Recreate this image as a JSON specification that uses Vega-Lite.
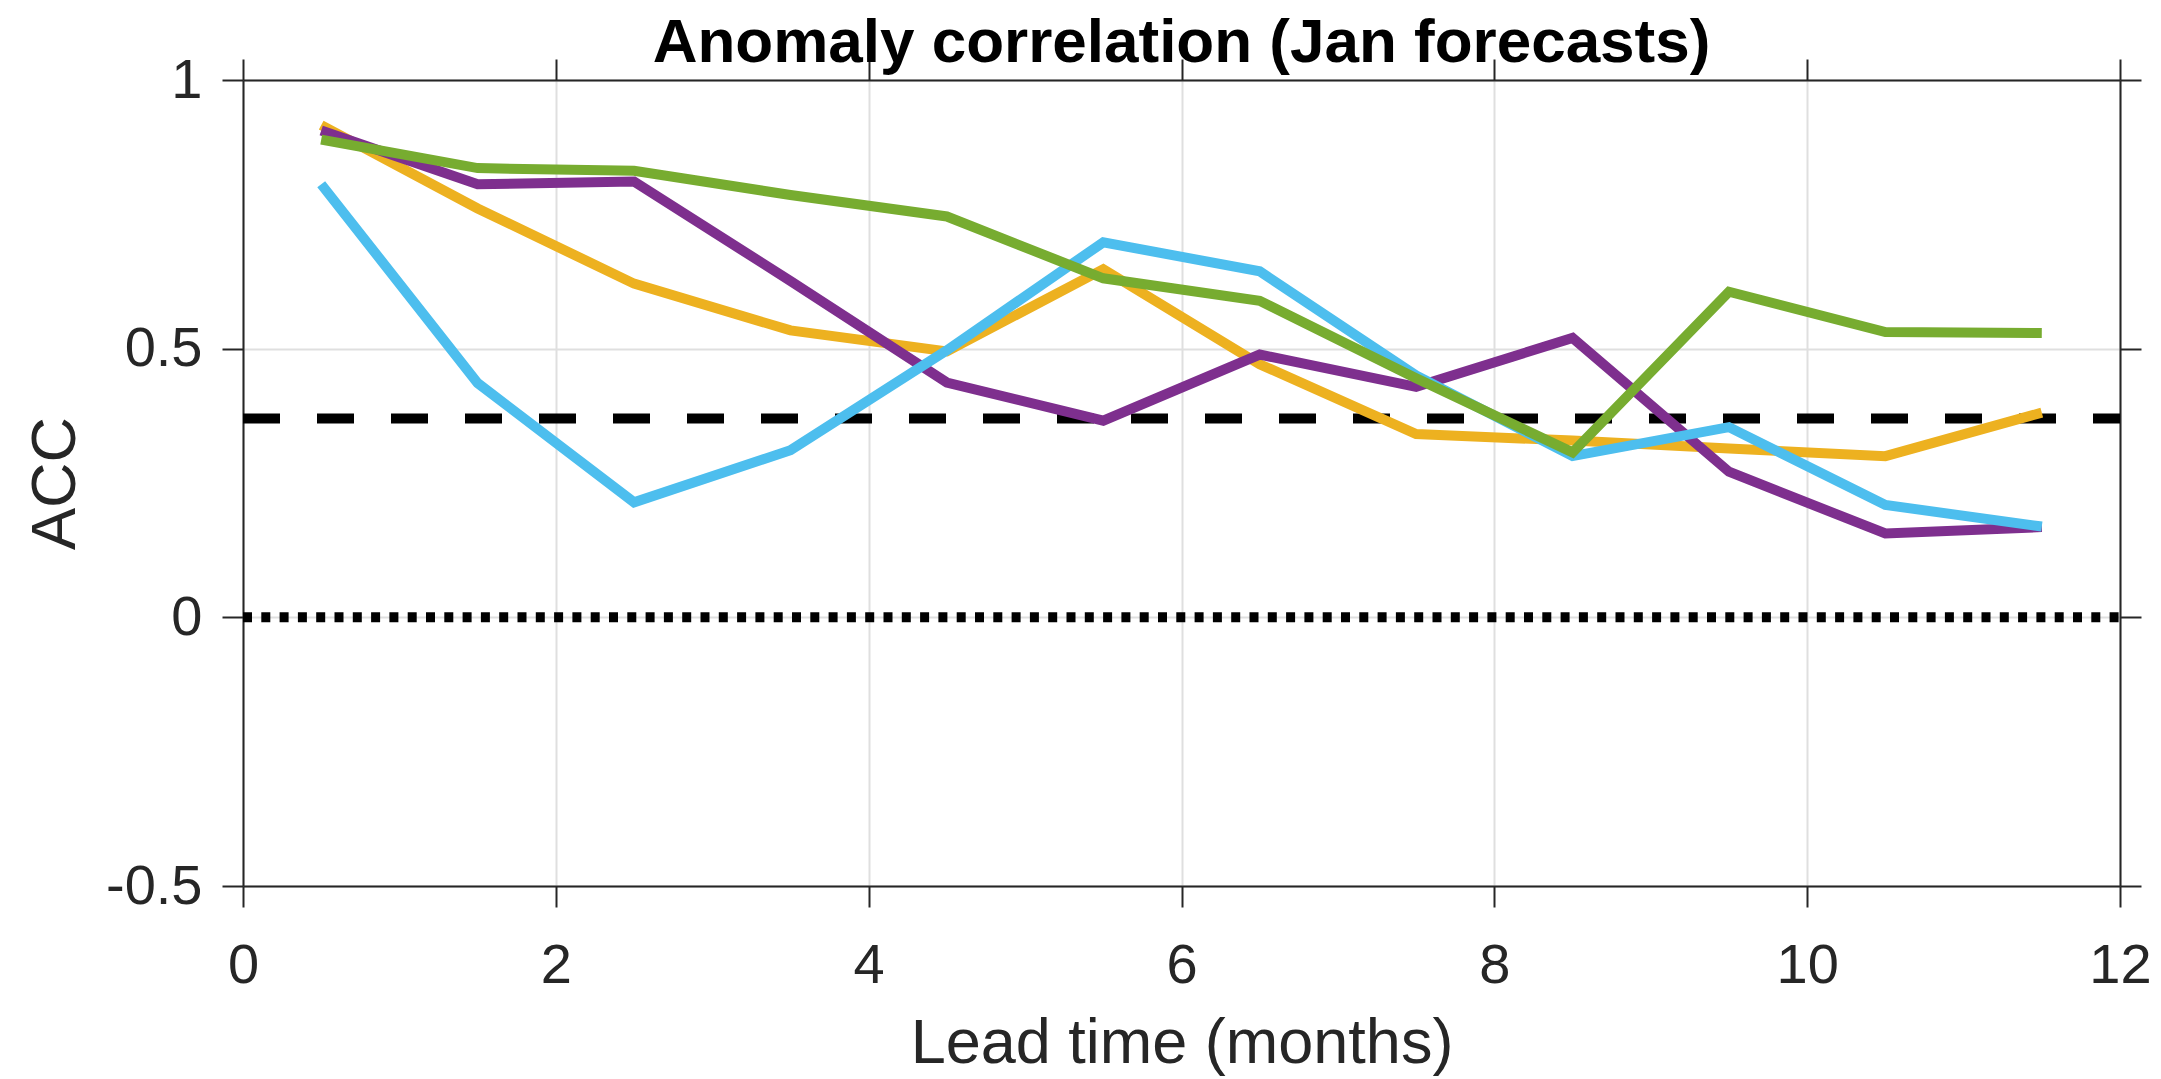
{
  "$schema": "https://vega.github.io/schema/vega-lite/v6.json",
  "width": 1877,
  "height": 806,
  "autosize": {"type": "none"},
  "padding": {"left": 243, "top": 80, "right": 41, "bottom": 193},
  "background": "white",
  "config": {"font": "Liberation Sans", "view": {"stroke": null}},
  "title": {
    "text": "Anomaly correlation (Jan forecasts)",
    "fontSize": 62,
    "fontWeight": "bold",
    "color": "black",
    "anchor": "middle",
    "baseline": "alphabetic",
    "offset": -72,
    "font": "Liberation Sans"
  },
  "resolve": {"axis": {"x": "independent", "y": "independent"}},
  "layer": [
    {
      "data": {"values": [{"acc": 0.37, "x0": 0, "x1": 12}]},
      "mark": {"type": "rule", "color": "black", "strokeWidth": 10, "strokeDash": [37, 37]},
      "encoding": {
        "x": {"field": "x0", "type": "quantitative", "scale": {"domain": [0, 12], "nice": false}, "axis": null},
        "x2": {"field": "x1"},
        "y": {
          "field": "acc", "type": "quantitative",
          "scale": {"domain": [-0.5, 1], "nice": false},
          "axis": {"orient": "right", "values": [-0.5, 0, 0.5, 1], "labels": false, "title": null, "grid": false,
                   "tickSize": 21, "tickWidth": 2, "tickColor": "#262626", "domainColor": "#262626", "domainWidth": 2}
        }
      }
    },
    {
      "data": {"values": [{"acc": 0, "x0": 0, "x1": 12}]},
      "mark": {"type": "rule", "color": "black", "strokeWidth": 10, "strokeDash": [9, 9.3]},
      "encoding": {
        "x": {
          "field": "x0", "type": "quantitative", "scale": {"domain": [0, 12], "nice": false},
          "axis": {"orient": "top", "values": [0, 2, 4, 6, 8, 10, 12], "labels": false, "title": null, "grid": false,
                   "tickSize": 21, "tickWidth": 2, "tickColor": "#262626", "domainColor": "#262626", "domainWidth": 2}
        },
        "x2": {"field": "x1"},
        "y": {"field": "acc", "type": "quantitative", "scale": {"domain": [-0.5, 1], "nice": false}, "axis": null}
      }
    },
    {
      "data": {"values": [
        {"lead": 0.5, "acc": 0.916, "series": "Forecast 1"},
        {"lead": 1.5, "acc": 0.761, "series": "Forecast 1"},
        {"lead": 2.5, "acc": 0.621, "series": "Forecast 1"},
        {"lead": 3.5, "acc": 0.534, "series": "Forecast 1"},
        {"lead": 4.5, "acc": 0.495, "series": "Forecast 1"},
        {"lead": 5.5, "acc": 0.648, "series": "Forecast 1"},
        {"lead": 6.5, "acc": 0.471, "series": "Forecast 1"},
        {"lead": 7.5, "acc": 0.341, "series": "Forecast 1"},
        {"lead": 8.5, "acc": 0.329, "series": "Forecast 1"},
        {"lead": 9.5, "acc": 0.314, "series": "Forecast 1"},
        {"lead": 10.5, "acc": 0.300, "series": "Forecast 1"},
        {"lead": 11.5, "acc": 0.381, "series": "Forecast 1"},
        {"lead": 0.5, "acc": 0.906, "series": "Forecast 2"},
        {"lead": 1.5, "acc": 0.806, "series": "Forecast 2"},
        {"lead": 2.5, "acc": 0.811, "series": "Forecast 2"},
        {"lead": 3.5, "acc": 0.626, "series": "Forecast 2"},
        {"lead": 4.5, "acc": 0.437, "series": "Forecast 2"},
        {"lead": 5.5, "acc": 0.366, "series": "Forecast 2"},
        {"lead": 6.5, "acc": 0.489, "series": "Forecast 2"},
        {"lead": 7.5, "acc": 0.429, "series": "Forecast 2"},
        {"lead": 8.5, "acc": 0.520, "series": "Forecast 2"},
        {"lead": 9.5, "acc": 0.271, "series": "Forecast 2"},
        {"lead": 10.5, "acc": 0.156, "series": "Forecast 2"},
        {"lead": 11.5, "acc": 0.168, "series": "Forecast 2"},
        {"lead": 0.5, "acc": 0.806, "series": "Forecast 3"},
        {"lead": 1.5, "acc": 0.436, "series": "Forecast 3"},
        {"lead": 2.5, "acc": 0.214, "series": "Forecast 3"},
        {"lead": 3.5, "acc": 0.311, "series": "Forecast 3"},
        {"lead": 4.5, "acc": 0.497, "series": "Forecast 3"},
        {"lead": 5.5, "acc": 0.698, "series": "Forecast 3"},
        {"lead": 6.5, "acc": 0.644, "series": "Forecast 3"},
        {"lead": 7.5, "acc": 0.450, "series": "Forecast 3"},
        {"lead": 8.5, "acc": 0.300, "series": "Forecast 3"},
        {"lead": 9.5, "acc": 0.354, "series": "Forecast 3"},
        {"lead": 10.5, "acc": 0.209, "series": "Forecast 3"},
        {"lead": 11.5, "acc": 0.169, "series": "Forecast 3"},
        {"lead": 0.5, "acc": 0.889, "series": "Forecast 4"},
        {"lead": 1.5, "acc": 0.836, "series": "Forecast 4"},
        {"lead": 2.5, "acc": 0.831, "series": "Forecast 4"},
        {"lead": 3.5, "acc": 0.786, "series": "Forecast 4"},
        {"lead": 4.5, "acc": 0.746, "series": "Forecast 4"},
        {"lead": 5.5, "acc": 0.631, "series": "Forecast 4"},
        {"lead": 6.5, "acc": 0.589, "series": "Forecast 4"},
        {"lead": 7.5, "acc": 0.445, "series": "Forecast 4"},
        {"lead": 8.5, "acc": 0.307, "series": "Forecast 4"},
        {"lead": 9.5, "acc": 0.606, "series": "Forecast 4"},
        {"lead": 10.5, "acc": 0.531, "series": "Forecast 4"},
        {"lead": 11.5, "acc": 0.529, "series": "Forecast 4"}
      ]},
      "mark": {"type": "line", "strokeWidth": 10, "strokeCap": "butt", "strokeJoin": "miter"},
      "encoding": {
        "x": {
          "field": "lead", "type": "quantitative",
          "scale": {"domain": [0, 12], "nice": false},
          "axis": {"orient": "bottom", "values": [0, 2, 4, 6, 8, 10, 12], "grid": true, "gridColor": "#DFDFDF", "gridWidth": 2,
                   "tickSize": 21, "tickWidth": 2, "tickColor": "#262626", "domainColor": "#262626", "domainWidth": 2,
                   "labelFontSize": 56, "labelColor": "#262626", "labelPadding": 31, "labelFlush": false, "labelOverlap": false,
                   "title": "Lead time (months)", "titleFontSize": 63, "titleFontWeight": "normal", "titleColor": "#262626",
                   "titleBaseline": "alphabetic", "titleY": 176}
        },
        "y": {
          "field": "acc", "type": "quantitative",
          "scale": {"domain": [-0.5, 1], "nice": false},
          "axis": {"orient": "left", "values": [-0.5, 0, 0.5, 1], "grid": true, "gridColor": "#DFDFDF", "gridWidth": 2,
                   "tickSize": 21, "tickWidth": 2, "tickColor": "#262626", "domainColor": "#262626", "domainWidth": 2,
                   "labelFontSize": 56, "labelColor": "#262626", "labelPadding": 20, "labelOverlap": false, "labelFlush": false,
                   "labelExpr": "(datum.value < 0 ? '-' : '') + format(abs(datum.value), '~g')",
                   "title": "ACC", "titleFontSize": 63, "titleFontWeight": "normal", "titleColor": "#262626",
                   "titleAngle": -90, "titleBaseline": "alphabetic", "titleAlign": "center", "titleX": -169, "titleY": 403}
        },
        "color": {
          "field": "series", "type": "nominal",
          "scale": {"domain": ["Forecast 1", "Forecast 2", "Forecast 3", "Forecast 4"],
                    "range": ["#EDB120", "#7E2F8E", "#4DBEEE", "#77AC30"]},
          "legend": null
        }
      }
    }
  ]
}
